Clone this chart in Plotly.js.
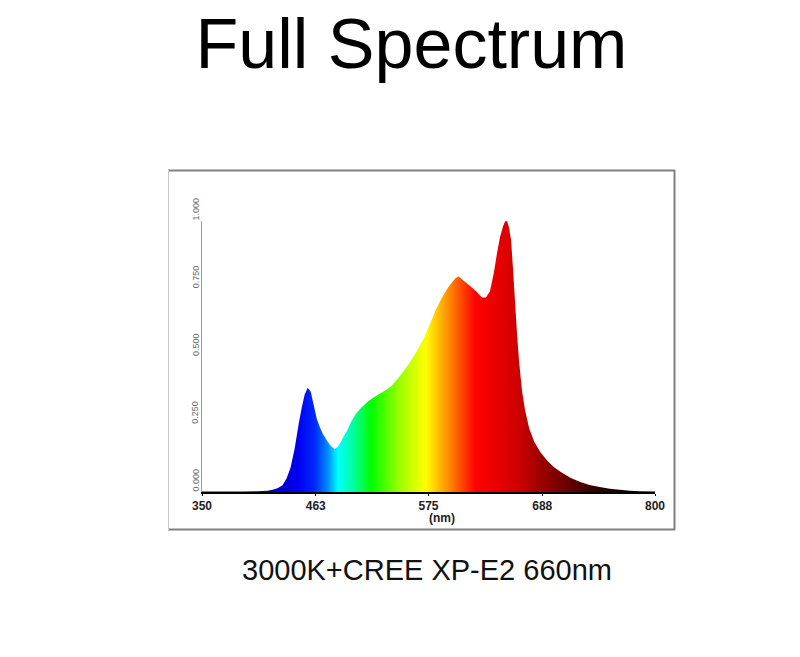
<!DOCTYPE html>
<html>
<head>
<meta charset="utf-8">
<script src="https://cdn.plot.ly/plotly-3.0.1.min.js"></script>
<style>
  html, body { margin: 0; padding: 0; background: #fff; }
  #chart { width: 800px; height: 657px; }
</style>
</head>
<body>
<div id="chart"></div>
<script>
// Wavelength (nm) and relative intensity
const wavelength = [350,370,390,405,415,420,425,430,434,438,442,446,449,452,455,458,461,464,467,470,474,478,482,486,490,494,498,503,508,515,522,530,538,546,554,562,570,576,582,588,594,598,602,605,609,613,618,623,628,632,636,640,643,646,649,651,653,655,657,659,661,663,665,668,671,675,680,686,693,700,708,716,725,735,745,755,765,775,785,800];
const intensity = [0.002,0.002,0.002,0.003,0.005,0.008,0.014,0.025,0.05,0.09,0.16,0.25,0.31,0.36,0.385,0.37,0.32,0.27,0.24,0.215,0.19,0.17,0.158,0.172,0.20,0.225,0.258,0.29,0.31,0.335,0.352,0.37,0.39,0.425,0.465,0.51,0.565,0.615,0.67,0.715,0.752,0.772,0.79,0.795,0.782,0.77,0.755,0.738,0.718,0.718,0.74,0.81,0.88,0.94,0.98,0.998,1.0,0.975,0.93,0.82,0.70,0.58,0.48,0.37,0.30,0.235,0.185,0.148,0.115,0.09,0.07,0.053,0.038,0.026,0.018,0.012,0.008,0.005,0.003,0.002];

const xTickVals = [350,463,575,688,800];
const xTickText = ['350','463','575','688','800'];
const yTickVals = [0,0.25,0.5,0.75,1];
const yTickText = ['0.000','0.250','0.500','0.750','1.000'];

// Spectrum colours by wavelength
const colorWl = [350,420,445,462,475,485,500,518,545,572,595,612,622,650,670,690,715,745,780,800];
const colorRgb = ['rgb(20,0,90)','rgb(0,0,185)','rgb(0,0,240)','rgb(0,40,255)','rgb(0,140,255)','rgb(0,255,255)','rgb(0,255,160)','rgb(0,255,0)','rgb(150,255,0)','rgb(255,255,0)','rgb(255,140,0)','rgb(255,50,0)','rgb(255,0,0)','rgb(225,0,0)','rgb(195,0,0)','rgb(150,0,0)','rgb(100,0,0)','rgb(40,0,0)','rgb(6,0,0)','rgb(0,0,0)'];

const wlMin = 350, wlMax = 800;
const colorscale = colorWl.map((w, i) => [(w - wlMin) / (wlMax - wlMin), colorRgb[i]]);

const trace = {
  type: 'scatter',
  x: wavelength,
  y: intensity,
  mode: 'none',
  fill: 'tozeroy',
  fillgradient: { type: 'horizontal', start: wlMin, stop: wlMax, colorscale: colorscale },
  hoverinfo: 'x+y'
};

// Pixel helpers for decorations
const W = 800, H = 657;
const L = 202, R = 655, T = 221, B = 492;
const px = v => (v - L) / (R - L);
const py = v => (B - v) / (B - T);

const font = 'Liberation Sans, Arial, sans-serif';

// Y tick labels: rotated, drawn so that their end sits at the tick value
const yLabelAnnotations = yTickVals.map((v, i) => ({
  text: yTickText[i], xref: 'paper', yref: 'y',
  x: px(195.5), y: v, yshift: 12,
  xanchor: 'center', yanchor: 'middle', textangle: -90, showarrow: false,
  font: { family: font, size: 9, color: '#666' }
}));

const layout = {
  width: W, height: H,
  margin: { l: L, r: W - R, t: T, b: H - B, pad: 0 },
  paper_bgcolor: '#fff', plot_bgcolor: '#fff',
  showlegend: false,
  title: {
    text: 'Full Spectrum',
    font: { family: font, size: 70, color: '#000' },
    x: 411.5 / W, xanchor: 'center', xref: 'container',
    y: 1 - 43 / H, yanchor: 'middle', yref: 'container'
  },
  xaxis: {
    range: [wlMin, wlMax],
    tickvals: xTickVals, ticktext: xTickText,
    showgrid: false, zeroline: false,
    showline: true, linecolor: '#000', linewidth: 2,
    ticks: 'outside', ticklen: 2, tickcolor: '#000', tickwidth: 1,
    tickfont: { family: font, size: 12, color: '#222', weight: 'bold' },
    fixedrange: true
  },
  yaxis: {
    range: [0, 1],
    tickvals: yTickVals, showticklabels: false,
    showgrid: false, zeroline: false,
    showline: true, linecolor: '#9a9a9a', linewidth: 1,
    ticks: '',
    fixedrange: true
  },
  annotations: yLabelAnnotations.concat([
    { text: '(nm)', xref: 'paper', yref: 'paper', x: px(442), y: py(518),
      xanchor: 'center', yanchor: 'middle', showarrow: false,
      font: { family: font, size: 12, color: '#222', weight: 'bold' } },
    { text: '3000K+CREE XP-E2 660nm', xref: 'paper', yref: 'paper', x: px(427), y: py(570),
      xanchor: 'center', yanchor: 'middle', showarrow: false,
      font: { family: font, size: 29, color: '#111' } }
  ]),
  shapes: [
    { type: 'line', xref: 'paper', yref: 'paper', x0: px(168), x1: px(675), y0: py(170.5), y1: py(170.5), line: { color: '#808080', width: 2 } },
    { type: 'line', xref: 'paper', yref: 'paper', x0: px(168), x1: px(675), y0: py(529.5), y1: py(529.5), line: { color: '#808080', width: 2 } },
    { type: 'line', xref: 'paper', yref: 'paper', x0: px(674.5), x1: px(674.5), y0: py(170), y1: py(530), line: { color: '#808080', width: 2 } },
    { type: 'line', xref: 'paper', yref: 'paper', x0: px(168.5), x1: px(168.5), y0: py(170), y1: py(530), line: { color: '#c8c8c8', width: 1 } }
  ]
};

Plotly.newPlot('chart', [trace], layout, { displayModeBar: false, staticPlot: true });
</script>
</body>
</html>
